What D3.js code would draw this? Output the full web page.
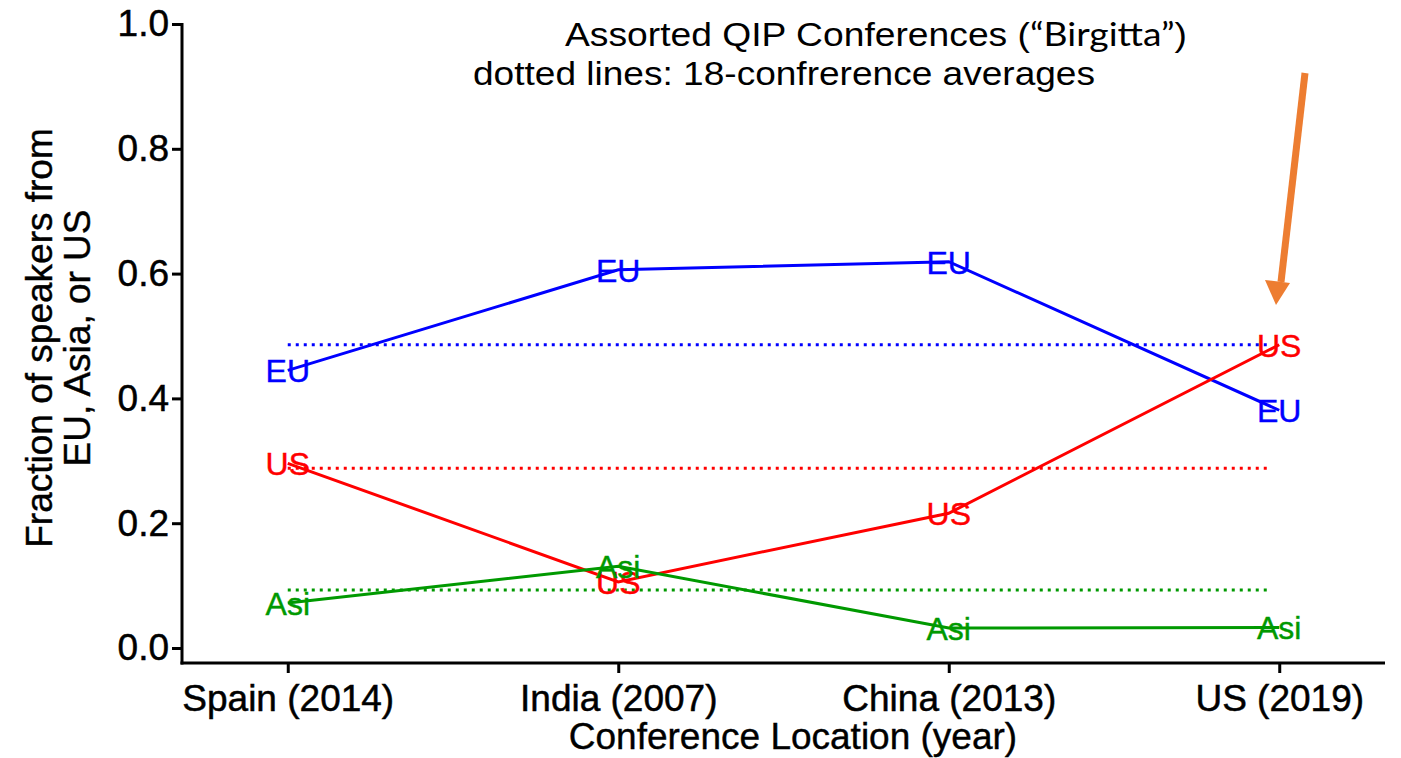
<!DOCTYPE html>
<html>
<head>
<meta charset="utf-8">
<script src="https://cdn.jsdelivr.net/npm/d3@7"></script>
<style>
  body { margin: 0; background: #fff; }
  text { font-family: "Liberation Sans", Arial, sans-serif; }
</style>
</head>
<body>
<div id="chart"></div>
<script>
// conference locations on the x axis
var locations = ["Spain (2014)", "India (2007)", "China (2013)", "US (2019)"];

// fraction of speakers per region
var euValues = [0.445, 0.606, 0.619, 0.381];
var usValues = [0.296, 0.106, 0.216, 0.486];
var asiaValues = [0.072, 0.131, 0.032, 0.033];

// 18-conference averages (dotted lines)
var euAverage = 0.486;
var usAverage = 0.288;
var asiaAverage = 0.093;

var yTicks = [0, 0.2, 0.4, 0.6, 0.8, 1.0];

var width = 1401, height = 758;
var plotLeft = 182, plotRight = 1385, plotTop = 24, plotBottom = 648, axisY = 663;

var svg = d3.select("#chart").append("svg")
  .attr("width", width)
  .attr("height", height);

var x = d3.scalePoint()
  .domain(locations)
  .range([plotLeft, plotRight])
  .padding(0.32);

var y = d3.scaleLinear()
  .domain([0, 1])
  .range([plotBottom, plotTop]);

var series = [
  {label: "EU", color: "#0000ff", values: euValues, avg: euAverage},
  {label: "US", color: "#ff0000", values: usValues, avg: usAverage},
  {label: "Asi", color: "#009900", values: asiaValues, avg: asiaAverage}
];

// dotted average lines
series.forEach(function (s) {
  svg.append("line")
    .attr("x1", x(locations[0]))
    .attr("x2", x(locations[locations.length - 1]) - 12)
    .attr("y1", y(s.avg))
    .attr("y2", y(s.avg))
    .attr("stroke", s.color)
    .attr("stroke-width", 3)
    .attr("stroke-dasharray", "3,5");
});

var line = d3.line()
  .x(function (d, i) { return x(locations[i]); })
  .y(function (d) { return y(d); });

series.forEach(function (s) {
  svg.append("path")
    .datum(s.values)
    .attr("fill", "none")
    .attr("stroke", s.color)
    .attr("stroke-width", 3)
    .attr("d", line);

  svg.selectAll(null)
    .data(s.values)
    .enter().append("text")
    .attr("x", function (d, i) { return x(locations[i]); })
    .attr("y", function (d) { return y(d) + 12; })
    .attr("text-anchor", "middle")
    .style("font-size", "32px")
    .attr("fill", s.color)
    .attr("stroke", s.color)
    .attr("stroke-width", 0.4)
    .text(s.label);
});

// y axis
var yAxis = svg.append("g")
  .attr("transform", "translate(" + plotLeft + ",0)")
  .call(d3.axisLeft(y).tickValues(yTicks).tickFormat(d3.format(".1f")).tickSize(10).tickSizeOuter(0).tickPadding(3));
yAxis.select(".domain").remove();
yAxis.selectAll(".tick line").attr("stroke", "#000").attr("stroke-width", 3);
yAxis.selectAll(".tick text").style("font-size", "37px").attr("fill", "#000")
  .attr("stroke", "#000").attr("stroke-width", 0.5);
svg.append("line")
  .attr("x1", plotLeft).attr("x2", plotLeft)
  .attr("y1", plotTop - 1).attr("y2", axisY + 1.5)
  .attr("stroke", "#000").attr("stroke-width", 3);

// x axis
var xAxis = svg.append("g")
  .attr("transform", "translate(0," + axisY + ")")
  .call(d3.axisBottom(x).tickSize(10).tickSizeOuter(0).tickPadding(12));
xAxis.select(".domain").remove();
xAxis.selectAll(".tick line").attr("stroke", "#000").attr("stroke-width", 3);
xAxis.selectAll(".tick text").style("font-size", "37px").attr("fill", "#000")
  .attr("stroke", "#000").attr("stroke-width", 0.5);
svg.append("line")
  .attr("x1", plotLeft - 1.5).attr("x2", plotRight)
  .attr("y1", axisY).attr("y2", axisY)
  .attr("stroke", "#000").attr("stroke-width", 3);

// axis titles
svg.append("text")
  .attr("x", 793)
  .attr("y", 749)
  .attr("text-anchor", "middle")
  .style("font-size", "37px")
  .attr("stroke", "#000").attr("stroke-width", 0.4)
  .text("Conference Location (year)");

var yTitle = svg.append("text")
  .attr("transform", "translate(52,338) rotate(-90)")
  .attr("text-anchor", "middle")
  .attr("stroke", "#000").attr("stroke-width", 0.4)
  .style("font-size", "37px");
yTitle.append("tspan").attr("x", 0).attr("dy", 0).text("Fraction of speakers from");
yTitle.append("tspan").attr("x", 0).attr("dy", 38).text("EU, Asia, or US");

// title block
var t1 = svg.append("text")
  .attr("x", 565)
  .attr("y", 46)
  .attr("textLength", 622)
  .attr("lengthAdjust", "spacingAndGlyphs")
  .style("font-size", "33px");
t1.append("tspan").text("Assorted QIP Conferences (");
t1.append("tspan").style("font-family", "Lato, 'Open Sans', sans-serif").text("\u201cBirgitta\u201d");
t1.append("tspan").text(")");

svg.append("text")
  .attr("x", 473)
  .attr("y", 85)
  .attr("textLength", 622)
  .attr("lengthAdjust", "spacingAndGlyphs")
  .style("font-size", "33px")
  .text("dotted lines: 18-confrerence averages");

// orange arrow pointing at the US (2019) point
svg.append("line")
  .attr("x1", 1305).attr("y1", 73)
  .attr("x2", 1281).attr("y2", 282)
  .attr("stroke", "#ed7d31")
  .attr("stroke-width", 7);
svg.append("path")
  .attr("d", "M1265,280 L1290,283 L1276,305 Z")
  .attr("fill", "#ed7d31");
</script>
</body>
</html>
